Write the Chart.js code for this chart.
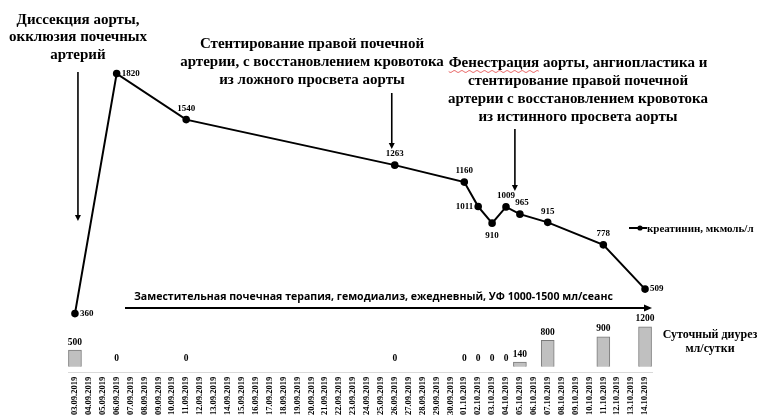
<!DOCTYPE html>
<html>
<head>
<meta charset="utf-8">
<script src="https://cdn.jsdelivr.net/npm/chart.js@4.4.1/dist/chart.umd.min.js"></script>
<style>
html,body{margin:0;padding:0;background:#fff;}
#wrap{width:757px;height:420px;position:relative;}
</style>
</head>
<body>
<div id="wrap"><canvas id="c" width="757" height="420"></canvas></div>
<script>
// ---- data ----
const categories = ['03.09.2019','04.09.2019','05.09.2019','06.09.2019','07.09.2019','08.09.2019','09.09.2019','10.09.2019','11.09.2019','12.09.2019','13.09.2019','14.09.2019','15.09.2019','16.09.2019','17.09.2019','18.09.2019','19.09.2019','20.09.2019','21.09.2019','22.09.2019','23.09.2019','24.09.2019','25.09.2019','26.09.2019','27.09.2019','28.09.2019','29.09.2019','30.09.2019','01.10.2019','02.10.2019','03.10.2019','04.10.2019','05.10.2019','06.10.2019','07.10.2019','08.10.2019','09.10.2019','10.10.2019','11.10.2019','12.10.2019','13.10.2019','14.10.2019'];
const creatDates = ['03.09.2019','06.09.2019','11.09.2019','26.09.2019','01.10.2019','02.10.2019','03.10.2019','04.10.2019','05.10.2019','07.10.2019','11.10.2019','14.10.2019'];
const creatValues = [360,1820,1540,1263,1160,1011,910,1009,965,915,778,509];
const diuresisDates = ['03.09.2019','06.09.2019','11.09.2019','26.09.2019','01.10.2019','02.10.2019','03.10.2019','04.10.2019','05.10.2019','07.10.2019','11.10.2019','14.10.2019'];
const diuresisValues = [500,0,0,0,0,0,0,0,140,800,900,1200];
const creatLabel = 'креатинин, мкмоль/л';
const diuresisLabel = ['Суточный диурез','мл/сутки'];
const annotations = [
  {date:'03.09.2019', lines:['Диссекция аорты,','окклюзия почечных','артерий']},
  {date:'26.09.2019', lines:['Стентирование правой почечной','артерии, с восстановлением кровотока','из ложного просвета аорты']},
  {date:'05.10.2019', lines:['Фенестрация аорты, ангиопластика и','стентирование правой почечной','артерии с восстановлением кровотока','из истинного просвета аорты']}
];
const therapyText = 'Заместительная почечная терапия, гемодиализ, ежедневный, УФ 1000-1500 мл/сеанс';

// ---- styling (positions of labels relative to points) ----
const creatLabelPos = ['right','right','top','top','top','left','bottom','top','topright','top','top','right'];

function toSeries(dates, values){
  return categories.map(c => { const i = dates.indexOf(c); return i >= 0 ? values[i] : null; });
}
const creatSeries = toSeries(creatDates, creatValues);
const diuresisSeries = toSeries(diuresisDates, diuresisValues);

const SERIF = "'Liberation Serif', 'Times New Roman', serif";

function arrowDown(ctx, x, y1, y2){
  ctx.beginPath(); ctx.moveTo(x, y1); ctx.lineTo(x, y2 - 5); ctx.stroke();
  ctx.beginPath(); ctx.moveTo(x - 3, y2 - 6); ctx.lineTo(x + 3, y2 - 6); ctx.lineTo(x, y2); ctx.closePath(); ctx.fill();
}

const overlay = {
  id:'overlay',
  afterDatasetsDraw(chart){
    const ctx = chart.ctx;
    const xs = chart.scales.x;
    ctx.save();
    ctx.fillStyle = '#000'; ctx.strokeStyle = '#000';
    // creatinine labels
    ctx.font = 'bold 9px ' + SERIF;
    const lm = chart.getDatasetMeta(1);
    let k = 0;
    lm.data.forEach((el, i) => {
      if (creatSeries[i] === null) return;
      const pos = creatLabelPos[k++];
      const t = String(creatSeries[i]);
      let x = el.x, y = el.y;
      ctx.textBaseline = 'middle';
      if (pos === 'right'){ ctx.textAlign = 'left'; x += 5; }
      else if (pos === 'left'){ ctx.textAlign = 'right'; x -= 5; }
      else if (pos === 'top'){ ctx.textAlign = 'center'; y -= 11; }
      else if (pos === 'bottom'){ ctx.textAlign = 'center'; y += 13; }
      else if (pos === 'topright'){ ctx.textAlign = 'center'; x += 2; y -= 11; }
      ctx.fillText(t, x, y);
    });
    // bar labels
    ctx.font = 'bold 9.5px ' + SERIF;
    ctx.textAlign = 'center'; ctx.textBaseline = 'middle';
    const bm = chart.getDatasetMeta(0);
    bm.data.forEach((el, i) => {
      if (diuresisSeries[i] === null) return;
      ctx.fillText(String(diuresisSeries[i]), el.x, el.y - 8);
    });
    // annotations
    ctx.font = 'bold 15px ' + SERIF;
    ctx.lineWidth = 1.6;
    const specs = [
      {cx:78, y0:20, lh:17.5, a1:72, a2:221, dx:3},
      {cx:312, y0:44, lh:18, a1:93, a2:149, dx:-3},
      {cx:578, y0:63, lh:18, a1:129, a2:191, dx:-5}
    ];
    annotations.forEach((a, j) => {
      const s = specs[j];
      ctx.textAlign = 'center'; ctx.textBaseline = 'middle';
      a.lines.forEach((ln, n) => ctx.fillText(ln, s.cx, s.y0 + n * s.lh));
      const ax = xs.getPixelForValue(categories.indexOf(a.date)) + s.dx;
      arrowDown(ctx, ax, s.a1, s.a2);
    });
    // red wavy underline under first word of annotation 3
    {
      const s = specs[2];
      const full = annotations[2].lines[0];
      const wFull = ctx.measureText(full).width;
      const word = full.split(' ')[0];
      const wWord = ctx.measureText(word).width;
      const x0 = s.cx - wFull / 2, y = s.y0 + 8.5;
      ctx.strokeStyle = '#e03030'; ctx.lineWidth = 0.8;
      ctx.beginPath();
      for (let x = 0; x <= wWord; x += 1){
        const yy = y + Math.sin(x / 1.2) * 0.9;
        if (x === 0) ctx.moveTo(x0 + x, yy); else ctx.lineTo(x0 + x, yy);
      }
      ctx.stroke();
      ctx.strokeStyle = '#000';
    }
    // therapy text and arrow
    let fs = 12;
    ctx.font = 'bold ' + fs + "px 'Open Sans', sans-serif";
    fs = fs * 479 / ctx.measureText(therapyText).width;
    ctx.font = 'bold ' + fs.toFixed(2) + "px 'Open Sans', sans-serif";
    ctx.textAlign = 'left'; ctx.textBaseline = 'alphabetic';
    ctx.fillText(therapyText, 134, 300);
    ctx.lineWidth = 2;
    ctx.beginPath(); ctx.moveTo(125, 308); ctx.lineTo(646, 308); ctx.stroke();
    ctx.beginPath(); ctx.moveTo(644, 304.5); ctx.lineTo(652, 308); ctx.lineTo(644, 311.5); ctx.closePath(); ctx.fill();
    // legend: creatinine
    ctx.lineWidth = 2;
    ctx.beginPath(); ctx.moveTo(629, 228); ctx.lineTo(647, 228); ctx.stroke();
    ctx.beginPath(); ctx.arc(640, 228, 2.6, 0, Math.PI * 2); ctx.fill();
    ctx.font = 'bold 11px ' + SERIF;
    ctx.textAlign = 'left'; ctx.textBaseline = 'middle';
    ctx.fillText(creatLabel, 647, 229);
    // legend: diuresis
    ctx.font = 'bold 12px ' + SERIF;
    ctx.textAlign = 'center';
    ctx.fillText(diuresisLabel[0], 710, 335);
    ctx.fillText(diuresisLabel[1], 710, 349);
    ctx.restore();
  }
};

new Chart(document.getElementById('c'), {
  data: {
    labels: categories,
    datasets: [
      {type:'bar', label: diuresisLabel.join(' '), data: diuresisSeries, yAxisID:'y2',
       backgroundColor:'#c0c0c0', borderColor:'#7a7a7a', borderWidth:1, barThickness:13, order:2},
      {type:'line', label: creatLabel, data: creatSeries, yAxisID:'y', spanGaps:true,
       borderColor:'#000', borderWidth:2, tension:0, pointRadius:2.8, pointHoverRadius:2.8,
       pointBackgroundColor:'#000', pointBorderColor:'#000', clip:false, order:1}
    ]
  },
  options: {
    responsive:false, animation:false, devicePixelRatio:1,
    layout:{padding:{left:68, right:105, top:44, bottom:1}},
    plugins:{legend:{display:false}, tooltip:{enabled:false}},
    scales:{
      x:{offset:true,
         grid:{display:false, drawTicks:false},
         border:{display:true, color:'#d9d9d9', width:1},
         ticks:{autoSkip:false, minRotation:90, maxRotation:90, padding:4, color:'#000',
                font:{family:SERIF, size:8.5, weight:'bold'}}},
      y:{display:false, min:0, max:2000},
      y2:{display:false, min:-180, max:9720}
    }
  },
  plugins:[overlay]
});
</script>
</body>
</html>
